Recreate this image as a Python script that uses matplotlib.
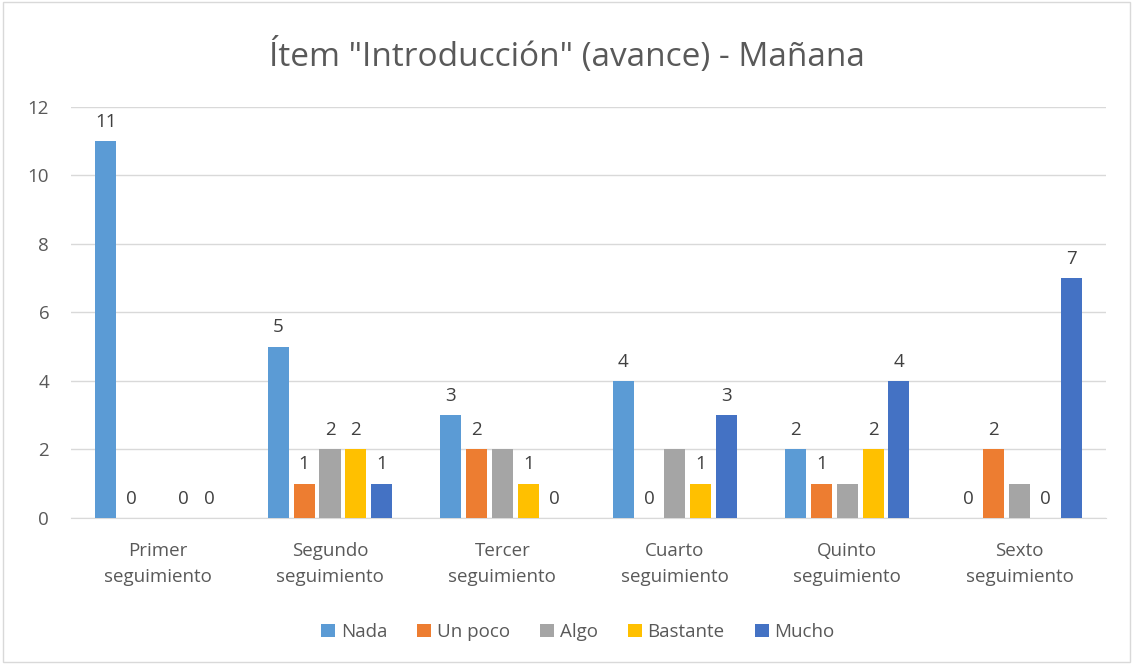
import numpy as np
import matplotlib.pyplot as plt
from matplotlib.patches import Rectangle

# --- Data ---
categories = ["Primer\nseguimiento", "Segundo\nseguimiento", "Tercer\nseguimiento",
              "Cuarto\nseguimiento", "Quinto\nseguimiento", "Sexto\nseguimiento"]
series_names = ["Nada", "Un poco", "Algo", "Bastante", "Mucho"]
nada = [11, 5, 3, 4, 2, 0]
un_poco = [0, 1, 2, 0, 1, 2]
algo = [0, 2, 2, 2, 1, 1]
bastante = [0, 2, 1, 1, 2, 0]
mucho = [0, 1, 0, 3, 4, 7]
# which data labels are shown in the original (Algo labels mostly absent)
algo_labels = ["", "2", "", "", "", ""]

colors = ["#5B9BD5", "#ED7D31", "#A5A5A5", "#FFC000", "#4472C4"]
text_col = "#595959"

plt.rcParams['font.family'] = ['Open Sans', 'DejaVu Sans']

fig = plt.figure(figsize=(11.33, 6.64), dpi=100)
fig.patches.append(Rectangle((0.003, 0.003), 0.994, 0.994, transform=fig.transFigure,
                             fill=False, edgecolor="#D9D9D9", linewidth=1))
ax = fig.add_axes([0.063, 0.22, 0.913, 0.619])

all_series = [nada, un_poco, algo, bastante, mucho]
x = np.arange(len(categories))
step = 0.15
width = 0.122
for i, (name, vals, col) in enumerate(zip(series_names, all_series, colors)):
    pos = x + (i - 2) * step
    ax.bar(pos, vals, width=width, color=col, label=name, zorder=3)
    for j, (p, v) in enumerate(zip(pos, vals)):
        if name == "Algo":
            lab = algo_labels[j]
        else:
            lab = str(v)
        if lab:
            ax.text(p, v + 0.3, lab, ha="center", va="bottom", fontsize=13.5, color="#404040")

ax.set_xlim(-0.5, len(categories) - 0.5)
ax.set_ylim(0, 12)
ax.set_yticks(range(0, 13, 2))
ax.set_xticks(x)
ax.set_xticklabels(categories, fontsize=13.5, color=text_col, linespacing=1.6)
ax.tick_params(axis="y", labelsize=13.5, labelcolor=text_col, length=0, pad=16)
ax.tick_params(axis="x", length=0, pad=17)
ax.grid(axis="y", color="#D9D9D9", linewidth=1, zorder=0)
for s in ["top", "right", "left"]:
    ax.spines[s].set_visible(False)
ax.spines["bottom"].set_color("#D9D9D9")

fig.suptitle('Ítem "Introducción" (avance) - Mañana', y=0.943, fontsize=24, color=text_col)

fig.legend(loc="center", bbox_to_anchor=(0.51, 0.048), ncol=5, frameon=False,
           fontsize=13.5, handlelength=0.75, handleheight=0.75, handletextpad=0.3,
           columnspacing=1.6, labelcolor=text_col)

fig.savefig("out.png", dpi=100)
